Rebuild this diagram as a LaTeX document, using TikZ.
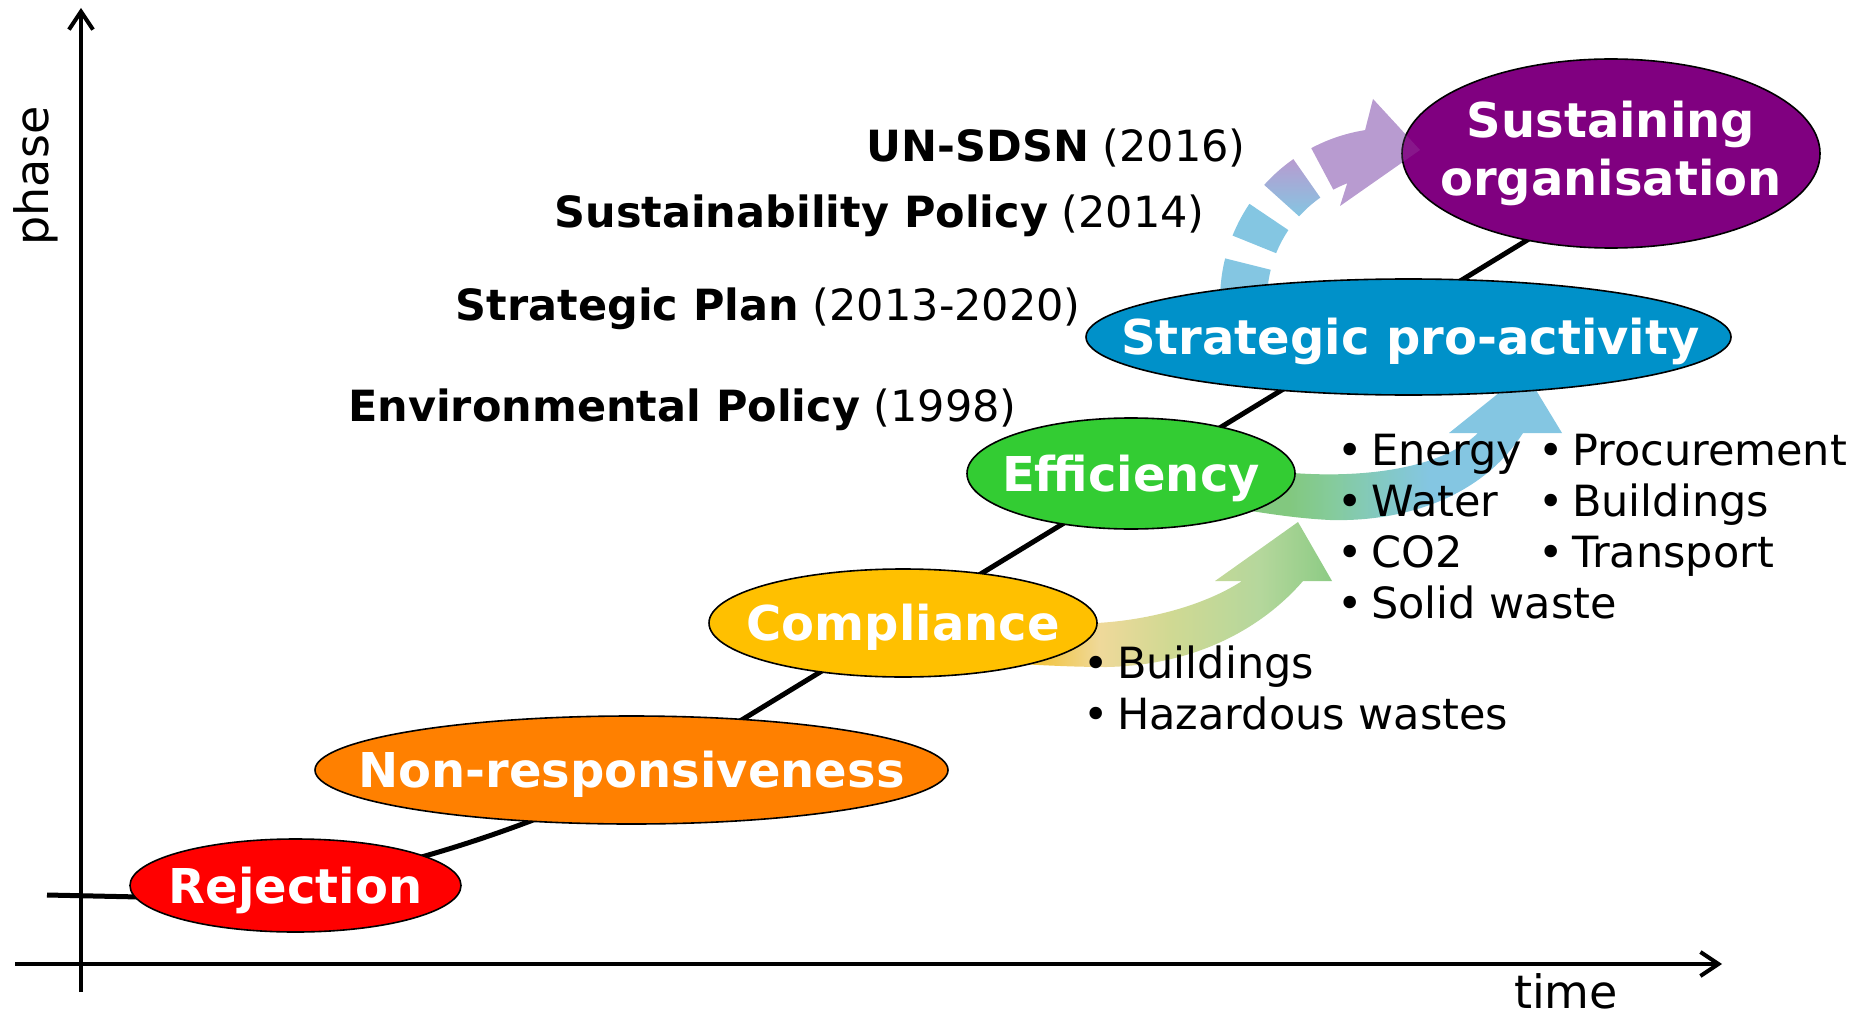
\documentclass[tikz,border=0pt]{standalone}
\usepackage{fontspec}
\setmainfont{DejaVu Sans}
\usetikzlibrary{arrows.meta,shapes.geometric}
\definecolor{cRej}{HTML}{FF0000}
\definecolor{cNon}{HTML}{FF8000}
\definecolor{cCom}{HTML}{FFC000}
\definecolor{cEff}{HTML}{33CC33}
\definecolor{cStr}{HTML}{0091C9}
\definecolor{cSus}{HTML}{800080}
\definecolor{cBlue}{HTML}{84C6E2}
\definecolor{cPurp}{HTML}{B89BD0}
\definecolor{cAa}{HTML}{F2C440}
\definecolor{cAb}{HTML}{EFD99A}
\definecolor{cAc}{HTML}{D0D993}
\definecolor{cAd}{HTML}{B5D79C}
\definecolor{cAe}{HTML}{8CCB84}
\definecolor{cBa}{HTML}{82C87F}
\definecolor{cBb}{HTML}{85CB9A}
\definecolor{cBc}{HTML}{83C9C2}
\pgfdeclarehorizontalshading{shadeA}{100bp}{color(0bp)=(cAa); color(31bp)=(cAa); color(40bp)=(cAb); color(50.6bp)=(cAc); color(64bp)=(cAd); color(75bp)=(cAe); color(100bp)=(cAe)}
\pgfdeclarehorizontalshading{shadeB}{100bp}{color(0bp)=(cBa); color(34bp)=(cBa); color(40bp)=(cBb); color(47.6bp)=(cBc); color(55bp)=(cBlue); color(100bp)=(cBlue)}
\begin{document}
\begin{tikzpicture}[x=1pt,y=-1pt,
  axis/.style={line width=4pt,-{Straight Barb[length=18pt,width=24pt]}},
  stage/.style={ellipse,draw=black,line width=1.6pt,inner sep=0pt},
  stagelbl/.style={inner sep=0pt,text=white,font=\fontsize{48}{58}\selectfont\bfseries,text height=35pt,text depth=0pt},
  lbl/.style={inner sep=0pt,anchor=base east,font=\fontsize{43}{50}\selectfont},
  blt/.style={inner sep=0pt,anchor=base west,font=\fontsize{43}{50}\selectfont},
  axlbl/.style={inner sep=0pt,font=\fontsize{46}{50}\selectfont}]
\useasboundingbox (0,0) rectangle (1859,1016);
\def\acx{1392}\def\acy{300}\def\ari{125}\def\aro{172}
% axes
\coordinate (yb) at (81,992); \coordinate (yt) at (81,8);
\coordinate (xl) at (15,964); \coordinate (xr) at (1722,964);
\draw[axis] (yb) -- (yt);
\draw[axis] (xl) -- (xr);
\node[axlbl,rotate=90,anchor=base] (phase) at (48,176) {phase};
\node[axlbl,anchor=base] (time) at (1566,1008) {time};
% curve
\coordinate (c0) at (47,895); \coordinate (c1) at (140,897);
\coordinate (c2) at (740,721); \coordinate (c3) at (1560,220);
\draw[line width=5pt] (c0) -- (c1) .. controls (380,902) and (630,788) .. (c2) -- (c3);
% arrow compliance -> efficiency
\shade[shading=shadeA] (1000,625) -- (1097,623) .. controls (1150,620) and (1205,605) .. (1242,581) -- (1215,581) -- (1298,522) -- (1332,581) -- (1303,581) .. controls (1265,625) and (1200,665) .. (1107,667) .. controls (1070,667) and (1040,665) .. (1000,663) -- cycle;
% arrow efficiency -> strategic
\shade[shading=shadeB] (1230,470) -- (1293,473) .. controls (1360,478) and (1440,470) .. (1478,433) -- (1449,433) -- (1525,372) -- (1562,433) -- (1523,433) .. controls (1480,500) and (1400,522) .. (1330,520) .. controls (1290,518) and (1260,512) .. (1230,508) -- cycle;
% dashed arrow strategic -> sustaining
\fill[cBlue] plot[domain=195:166,samples=15] ({\acx+\aro*cos(\x)},{\acy-\aro*sin(\x)}) -- plot[domain=166:195,samples=15] ({\acx+\ari*cos(\x)},{\acy-\ari*sin(\x)}) -- cycle;
\fill[cBlue] plot[domain=158:146,samples=8] ({\acx+\aro*cos(\x)},{\acy-\aro*sin(\x)}) -- plot[domain=146:158,samples=8] ({\acx+\ari*cos(\x)},{\acy-\ari*sin(\x)}) -- cycle;
\shade[bottom color=cBlue,top color=cPurp] plot[domain=138:125,samples=8] ({\acx+\aro*cos(\x)},{\acy-\aro*sin(\x)}) -- plot[domain=125:138,samples=8] ({\acx+\ari*cos(\x)},{\acy-\ari*sin(\x)}) -- cycle;
\fill[cPurp] plot[domain=118:99,samples=12] ({\acx+\aro*cos(\x)},{\acy-\aro*sin(\x)}) -- (1373,99) -- (1420,150) -- (1340,206) -- plot[domain=111:118,samples=6] ({\acx+\ari*cos(\x)},{\acy-\ari*sin(\x)}) -- cycle;
% stages
\node[stage,fill=cRej,minimum width=331pt,minimum height=93pt] (rej) at (295.5,885.5) {};
\node[stage,fill=cNon,minimum width=633pt,minimum height=108pt] (non) at (631.5,770) {};
\node[stage,fill=cCom,minimum width=388pt,minimum height=108pt] (com) at (903,623) {};
\node[stage,fill=cEff,minimum width=328pt,minimum height=111pt] (eff) at (1131,473.5) {};
\node[stage,fill=cStr,minimum width=645pt,minimum height=116pt] (str) at (1408.5,337) {};
\node[stage,fill=cSus,minimum width=418pt,minimum height=189pt] (sus) at (1611,153.5) {};
\node[stagelbl] (rejl) at (rej.center) {Rejection};
\node[stagelbl] (nonl) at (non.center) {Non-responsiveness};
\node[stagelbl] (coml) at (com.center) {Compliance};
\node[stagelbl] (effl) at (eff.center) {Efficiency};
\node[stagelbl] (strl) at ([xshift=2pt]str.center) {Strategic pro-activity};
\node[stagelbl,text height=,text depth=,align=center] (susl) at (sus.center) {Sustaining\\organisation};
\fill[cPurp,fill opacity=0.15] plot[domain=118:99,samples=12] ({\acx+\aro*cos(\x)},{\acy-\aro*sin(\x)}) -- (1373,99) -- (1420,150) -- (1340,206) -- plot[domain=111:118,samples=6] ({\acx+\ari*cos(\x)},{\acy-\ari*sin(\x)}) -- cycle;
% policy labels
\node[lbl] (un) at (1246,162) {\textbf{UN-SDSN} (2016)};
\node[lbl] (sp) at (1205,228) {\textbf{Sustainability Policy} (2014)};
\node[lbl] (plan) at (1081,320) {\textbf{Strategic Plan} (2013-2020)};
\node[lbl] (env) at (1017,421) {\textbf{Environmental Policy} (1998)};
% bullet lists
\node[blt] (e1) at (1337.6,465.5) {•\hspace{8pt}Energy};
\node[blt] (e2) at (1337.6,516.5) {•\hspace{8pt}Water};
\node[blt] (e3) at (1337.6,567.5) {•\hspace{8pt}CO2};
\node[blt] (e4) at (1337.6,618.5) {•\hspace{8pt}Solid waste};
\node[blt] (p1) at (1538.6,465.5) {•\hspace{8pt}Procurement};
\node[blt] (p2) at (1538.6,516.5) {•\hspace{8pt}Buildings};
\node[blt] (p3) at (1538.6,567.5) {•\hspace{8pt}Transport};
\node[blt] (l1) at (1083.6,678.5) {•\hspace{8pt}Buildings};
\node[blt] (l2) at (1083.6,729.5) {•\hspace{8pt}Hazardous wastes};
\end{tikzpicture}
\end{document}
